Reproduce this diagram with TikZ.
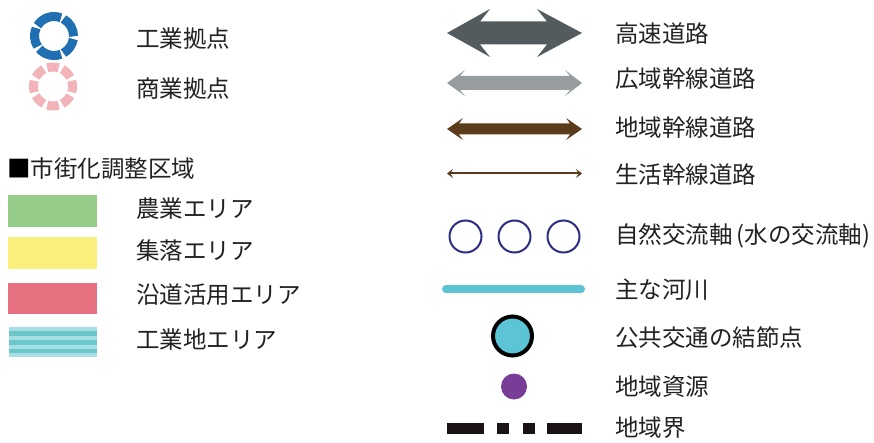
\documentclass[tikz,border=0pt]{standalone}
\usepackage{fontspec}
\setmainfont{Noto Sans CJK JP}
\usetikzlibrary{arrows.meta}
\definecolor{txt}{HTML}{222222}
\definecolor{ringblue}{HTML}{1F6FB2}
\definecolor{ringpink}{HTML}{F2B4B8}
\definecolor{agri}{HTML}{94CC88}
\definecolor{village}{HTML}{FBEF7E}
\definecolor{roadside}{HTML}{E6707F}
\definecolor{stripeL}{HTML}{A6DEE7}
\definecolor{stripeD}{HTML}{6CC7CB}
\definecolor{hwy}{HTML}{545B5E}
\definecolor{wide}{HTML}{979C9F}
\definecolor{brownroad}{HTML}{5A3B1C}
\definecolor{navy}{HTML}{2D2C87}
\definecolor{river}{HTML}{5BC5D5}
\definecolor{purple}{HTML}{7A3D97}
\definecolor{bnd}{HTML}{1A1414}
\begin{document}
\begin{tikzpicture}[x=1pt,y=-1pt,
  lbl/.style={anchor=west, inner sep=0pt, font=\fontsize{23.5}{25}\selectfont, text=txt},
  ringc/.style={circle, draw=navy, line width=2, minimum size=32pt, inner sep=0pt}]
\useasboundingbox (0,0) rectangle (874,443);
\fill[white] (0,0) rectangle (874,443);

% ---- left column: bases ----
\coordinate (indc) at (54,36);
\foreach \a/\b in {5/65,65/143,143/208,208/295,295/365}{
  \draw[ringblue, line width=9] ([shift={(indc)}]{\a+4}:19.5) arc[start angle=\a+4, end angle=\b-4, radius=19.5];
}
\node[lbl] (tind) at (136,39) {工業拠点};

\coordinate (comc) at (53,86.5);
\foreach \k in {0,...,7}{
  \pgfmathsetmacro{\sa}{22.5+45*\k+5.5}
  \pgfmathsetmacro{\ea}{22.5+45*(\k+1)-5.5}
  \draw[ringpink, line width=9] ([shift={(comc)}]\sa:19.5) arc[start angle=\sa, end angle=\ea, radius=19.5];
}
\node[lbl] (tcom) at (136,89) {商業拠点};

% ---- urbanization control area ----
\node[lbl, text=black] (thead) at (7,169) {■\textcolor{txt}{市街化調整区域}};

\fill[agri] (8,195) rectangle (97,227);
\node[lbl] (tagri) at (136,209) {農業エリア};

\fill[village] (8,237) rectangle (97,269);
\node[lbl] (tvil) at (136,251) {集落エリア};

\fill[roadside] (8,283) rectangle (97,314);
\node[lbl] (trs) at (136,295) {沿道活用エリア};

\fill[stripeL] (9,327) rectangle (97,357);
\fill[stripeD] (9,331) rectangle (97,336);
\fill[stripeD] (9,340) rectangle (97,345);
\fill[stripeD] (9,348.5) rectangle (97,353);
\node[lbl] (tindarea) at (136,340) {工業地エリア};

% ---- right column: roads ----
\fill[hwy] (447,33) -- (490,9) -- (480,21.5) -- (547,21.5) -- (537,9) -- (582,33)
  -- (537,57) -- (547,44.5) -- (480,44.5) -- (490,57) -- cycle;
\node[lbl] (thwy) at (615,34) {高速道路};

\fill[wide] (447,83) -- (465,70) -- (460,76) -- (570,76) -- (565,70) -- (582,83)
  -- (565,96) -- (570,90) -- (460,90) -- (465,96) -- cycle;
\node[lbl] (twide) at (615,79) {広域幹線道路};

\fill[brownroad] (447,129) -- (463,118) -- (459,123.5) -- (570,123.5) -- (566,118) -- (582,129)
  -- (566,140) -- (570,134.5) -- (459,134.5) -- (463,140) -- cycle;
\node[lbl] (treg) at (615,128) {地域幹線道路};

\coordinate (lifeA) at (447,173.5);
\coordinate (lifeB) at (582,173.5);
\draw[brownroad, line width=2, {Stealth[length=6pt,width=9pt,inset=2.5pt]}-{Stealth[length=6pt,width=9pt,inset=2.5pt]}] (lifeA) -- (lifeB);
\node[lbl] (tlife) at (615,175) {生活幹線道路};

% ---- natural exchange axis ----
\node[ringc] (c1) at (465.5,236.5) {};
\node[ringc] (c2) at (514.5,236.5) {};
\node[ringc] (c3) at (563.5,236.5) {};
\node[lbl] (tnat) at (615,236) {自然交流軸\,(水の交流軸)};

% ---- river ----
\coordinate (rivA) at (446,289);
\coordinate (rivB) at (581,289);
\draw[river, line width=8, line cap=round] (rivA) -- (rivB);
\node[lbl] (triv) at (615,290) {主な河川};

% ---- transit node ----
\node[circle, fill=river, draw=black, line width=4, minimum size=39pt, inner sep=0pt] (tn) at (512.5,336) {};
\node[lbl] (ttn) at (615,338) {公共交通の結節点};

% ---- regional resource ----
\node[circle, fill=purple, minimum size=26pt, inner sep=0pt] (res) at (514,386.5) {};
\node[lbl] (tres) at (615,387) {地域資源};

% ---- boundary ----
\fill[bnd] (447,423) rectangle (484,434);
\fill[bnd] (497,423) rectangle (509,434);
\fill[bnd] (523,423) rectangle (535,434);
\fill[bnd] (547,423) rectangle (582,434);
\node[lbl] (tbnd) at (615,428) {地域界};
\end{tikzpicture}
\end{document}
